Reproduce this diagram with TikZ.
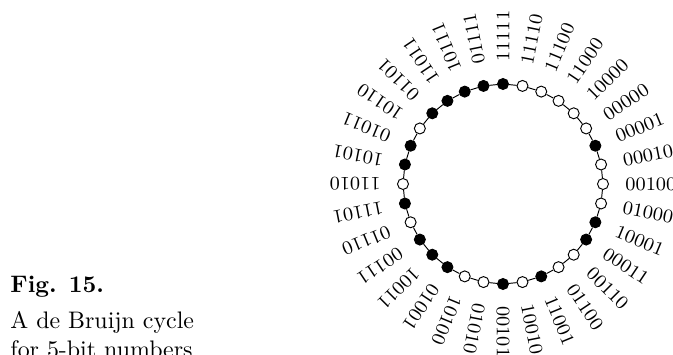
\documentclass[tikz,border=0pt]{standalone}
\usetikzlibrary{backgrounds}

\begin{document}
\begin{tikzpicture}[x=0.4184pt,y=0.4184pt,
  one/.style={circle,draw,fill=black,minimum size=4.6pt,inner sep=0pt},
  zero/.style={circle,draw,fill=white,minimum size=4.6pt,inner sep=0pt},
  word/.style={anchor=west,inner sep=0pt,font=\footnotesize}]

  \useasboundingbox (-503,-170) rectangle (170,184);

  % CAPTION
  \node[anchor=base west,inner sep=0pt,font=\bfseries] (fig) at (-493,-108) {Fig. 15.};
  \node[anchor=base west,inner sep=0pt] (cap1) at (-493,-144) {A de Bruijn cycle};
  \node[anchor=base west,inner sep=0pt] (cap2) at (-493,-173) {for 5-bit numbers};

  % THE BITS
  \node[one]  (b0)  at (90:100) {};
  \node[zero] (b1)  at (78.75:100) {};
  \node[zero] (b2)  at (67.5:100) {};
  \node[zero] (b3)  at (56.25:100) {};
  \node[zero] (b4)  at (45:100) {};
  \node[zero] (b5)  at (33.75:100) {};
  \node[one]  (b6)  at (22.5:100) {};
  \node[zero] (b7)  at (11.25:100) {};
  \node[zero] (b8)  at (0:100) {};
  \node[zero] (b9)  at (-11.25:100) {};
  \node[one]  (b10) at (-22.5:100) {};
  \node[one]  (b11) at (-33.75:100) {};
  \node[zero] (b12) at (-45:100) {};
  \node[zero] (b13) at (-56.25:100) {};
  \node[one]  (b14) at (-67.5:100) {};
  \node[zero] (b15) at (-78.75:100) {};
  \node[one]  (b16) at (-90:100) {};
  \node[zero] (b17) at (-101.25:100) {};
  \node[zero] (b18) at (-112.5:100) {};
  \node[one]  (b19) at (-123.75:100) {};
  \node[one]  (b20) at (-135:100) {};
  \node[one]  (b21) at (-146.25:100) {};
  \node[zero] (b22) at (-157.5:100) {};
  \node[one]  (b23) at (-168.75:100) {};
  \node[zero] (b24) at (-180:100) {};
  \node[one]  (b25) at (-191.25:100) {};
  \node[one]  (b26) at (-202.5:100) {};
  \node[zero] (b27) at (-213.75:100) {};
  \node[one]  (b28) at (-225:100) {};
  \node[one]  (b29) at (-236.25:100) {};
  \node[one]  (b30) at (-247.5:100) {};
  \node[one]  (b31) at (-258.75:100) {};

  % THE WORDS
  \node[word,rotate=90]      (w0)  at (90:122) {11111};
  \node[word,rotate=78.75]   (w1)  at (78.75:122) {11110};
  \node[word,rotate=67.5]    (w2)  at (67.5:122) {11100};
  \node[word,rotate=56.25]   (w3)  at (56.25:122) {11000};
  \node[word,rotate=45]      (w4)  at (45:122) {10000};
  \node[word,rotate=33.75]   (w5)  at (33.75:122) {00000};
  \node[word,rotate=22.5]    (w6)  at (22.5:122) {00001};
  \node[word,rotate=11.25]   (w7)  at (11.25:122) {00010};
  \node[word,rotate=0]       (w8)  at (0:122) {00100};
  \node[word,rotate=-11.25]  (w9)  at (-11.25:122) {01000};
  \node[word,rotate=-22.5]   (w10) at (-22.5:122) {10001};
  \node[word,rotate=-33.75]  (w11) at (-33.75:122) {00011};
  \node[word,rotate=-45]     (w12) at (-45:122) {00110};
  \node[word,rotate=-56.25]  (w13) at (-56.25:122) {01100};
  \node[word,rotate=-67.5]   (w14) at (-67.5:122) {11001};
  \node[word,rotate=-78.75]  (w15) at (-78.75:122) {10010};
  \node[word,rotate=-90]     (w16) at (-90:122) {00101};
  \node[word,rotate=-101.25] (w17) at (-101.25:122) {01010};
  \node[word,rotate=-112.5]  (w18) at (-112.5:122) {10100};
  \node[word,rotate=-123.75] (w19) at (-123.75:122) {01001};
  \node[word,rotate=-135]    (w20) at (-135:122) {10011};
  \node[word,rotate=-146.25] (w21) at (-146.25:122) {00111};
  \node[word,rotate=-157.5]  (w22) at (-157.5:122) {01110};
  \node[word,rotate=-168.75] (w23) at (-168.75:122) {11101};
  \node[word,rotate=-180]    (w24) at (-180:122) {11010};
  \node[word,rotate=-191.25] (w25) at (-191.25:122) {10101};
  \node[word,rotate=-202.5]  (w26) at (-202.5:122) {01011};
  \node[word,rotate=-213.75] (w27) at (-213.75:122) {10110};
  \node[word,rotate=-225]    (w28) at (-225:122) {01101};
  \node[word,rotate=-236.25] (w29) at (-236.25:122) {11011};
  \node[word,rotate=-247.5]  (w30) at (-247.5:122) {10111};
  \node[word,rotate=-258.75] (w31) at (-258.75:122) {01111};

  \begin{pgfonlayer}{background}
    \draw (b0) -- (b1) -- (b2) -- (b3) -- (b4) -- (b5) -- (b6) -- (b7)
      -- (b8) -- (b9) -- (b10) -- (b11) -- (b12) -- (b13) -- (b14) -- (b15)
      -- (b16) -- (b17) -- (b18) -- (b19) -- (b20) -- (b21) -- (b22) -- (b23)
      -- (b24) -- (b25) -- (b26) -- (b27) -- (b28) -- (b29) -- (b30) -- (b31)
      -- (b0);
  \end{pgfonlayer}
\end{tikzpicture}
\end{document}
